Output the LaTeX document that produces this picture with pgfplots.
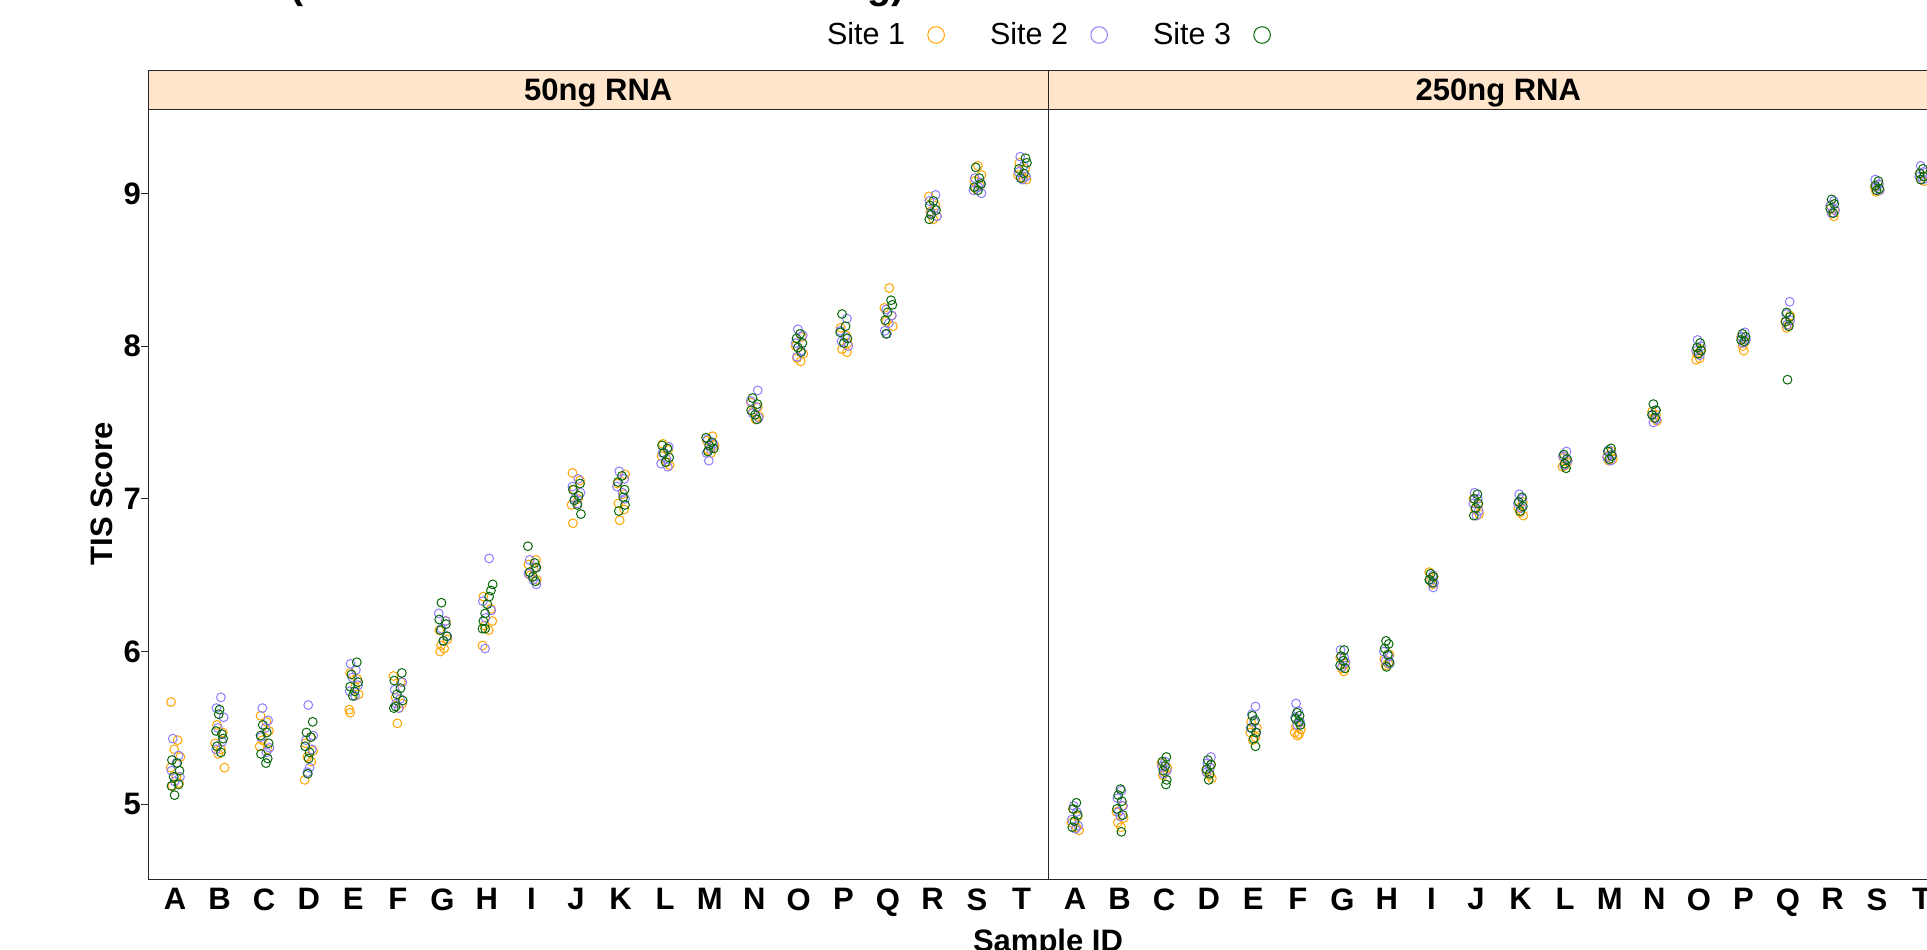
\documentclass[border=0pt]{standalone}
\usepackage{pgfplots}
\pgfplotsset{compat=1.18}
\usepackage{pgfplotstable}
\usepackage{fontspec}
\setmainfont{Liberation Sans}
\definecolor{siteA}{RGB}{255,165,0}
\definecolor{siteB}{RGB}{140,125,255}
\definecolor{siteC}{RGB}{10,105,10}
\definecolor{stripbg}{RGB}{255,229,204}
\newcommand{\figfont}{\fontsize{15.5}{18}\selectfont}

% ---------- 50ng RNA ----------
\pgfplotstableread{
x y
0.91 5.67
1.06 5.42
0.98 5.36
1.12 5.31
0.90 5.24
1.03 5.18
1.09 5.14
0.94 5.12
1.94 5.52
2.07 5.47
1.90 5.40
2.03 5.36
1.97 5.33
2.11 5.24
2.92 5.58
3.05 5.54
3.11 5.48
2.96 5.42
2.90 5.38
3.08 5.36
4.04 5.44
3.93 5.40
4.10 5.35
3.97 5.31
4.06 5.28
3.91 5.16
4.93 5.86
5.09 5.82
5.04 5.77
5.12 5.72
4.91 5.62
4.93 5.60
5.90 5.84
6.07 5.80
5.95 5.70
6.10 5.66
6.03 5.63
5.99 5.53
7.08 6.20
6.93 6.14
7.11 6.08
6.97 6.04
7.04 6.02
6.95 6.00
7.92 6.36
8.09 6.28
8.12 6.20
7.95 6.17
8.04 6.14
7.90 6.04
9.10 6.60
8.93 6.57
9.05 6.54
8.97 6.50
9.12 6.47
9.92 7.17
10.09 7.12
9.96 7.06
10.05 7.00
9.90 6.96
9.93 6.84
11.10 7.16
10.93 7.10
11.06 7.03
10.95 6.97
11.08 6.93
10.98 6.86
11.95 7.36
12.07 7.32
11.92 7.28
12.04 7.24
12.10 7.22
13.06 7.41
12.94 7.38
13.11 7.35
12.97 7.32
13.03 7.30
13.93 7.63
14.08 7.60
13.97 7.57
14.11 7.54
14.03 7.52
15.07 8.06
14.93 8.00
15.10 7.95
14.96 7.92
15.04 7.90
15.94 8.12
16.06 8.07
16.10 8.02
15.97 7.98
16.08 7.96
17.03 8.38
16.92 8.25
17.08 8.20
16.96 8.16
17.11 8.13
17.92 8.98
18.07 8.92
17.95 8.88
18.10 8.85
18.02 8.83
19.02 9.18
19.10 9.12
18.94 9.08
19.06 9.05
18.97 9.03
19.95 9.20
20.08 9.16
19.92 9.12
20.04 9.10
20.11 9.09
}\lowA
\pgfplotstableread{
x y
0.95 5.43
1.08 5.32
1.03 5.27
0.92 5.22
1.11 5.18
0.99 5.15
2.03 5.70
1.93 5.63
2.09 5.57
1.96 5.50
2.06 5.41
1.92 5.36
2.96 5.63
3.09 5.55
3.03 5.50
2.93 5.44
3.12 5.37
3.05 5.34
3.99 5.65
4.10 5.45
3.94 5.42
4.07 5.36
4.02 5.24
3.97 5.21
4.94 5.92
5.06 5.88
4.98 5.83
5.11 5.78
4.92 5.74
5.04 5.71
6.10 5.80
5.93 5.75
6.05 5.69
5.96 5.66
6.02 5.63
6.92 6.25
7.07 6.20
6.98 6.15
7.11 6.10
7.03 6.07
8.05 6.61
7.91 6.33
8.10 6.27
7.97 6.22
7.96 6.02
8.96 6.60
9.09 6.55
8.93 6.51
9.04 6.47
9.11 6.44
10.05 7.13
9.92 7.08
10.10 7.04
9.97 7.00
10.03 6.97
10.97 7.18
11.08 7.13
10.92 7.08
11.04 7.04
11.10 7.00
12.08 7.34
11.94 7.30
12.03 7.26
11.91 7.23
12.06 7.21
12.95 7.39
13.08 7.36
13.02 7.33
12.93 7.30
12.98 7.25
14.08 7.71
13.92 7.64
14.05 7.60
13.96 7.56
14.10 7.53
14.98 8.11
15.09 8.07
14.93 8.02
15.05 7.97
14.96 7.93
16.08 8.18
15.93 8.10
16.04 8.06
15.96 8.03
16.11 8.00
16.96 8.24
17.09 8.20
17.02 8.15
16.93 8.10
16.98 8.08
18.07 8.99
17.93 8.95
18.04 8.90
17.97 8.87
18.10 8.85
18.95 9.10
19.08 9.07
19.03 9.04
18.92 9.02
19.10 9.00
19.97 9.24
20.05 9.18
19.93 9.14
20.10 9.11
20.02 9.09
}\lowB
\pgfplotstableread{
x y
0.93 5.29
1.05 5.27
1.10 5.22
0.97 5.18
1.08 5.13
0.92 5.12
0.99 5.06
2.00 5.62
1.98 5.59
1.92 5.48
2.05 5.46
2.08 5.43
1.94 5.38
2.03 5.34
2.97 5.52
3.06 5.47
2.92 5.45
3.10 5.40
2.93 5.33
3.08 5.30
3.04 5.27
4.09 5.54
3.95 5.47
4.05 5.44
3.92 5.38
4.02 5.34
4.00 5.30
3.98 5.20
5.08 5.93
4.96 5.85
5.11 5.80
4.93 5.77
5.03 5.74
4.99 5.71
6.09 5.86
5.92 5.81
6.06 5.76
5.98 5.72
6.11 5.68
5.95 5.64
5.91 5.63
6.98 6.32
6.93 6.21
7.08 6.18
6.96 6.14
7.10 6.10
7.02 6.07
8.13 6.44
8.09 6.40
8.05 6.36
8.01 6.31
7.96 6.25
7.92 6.20
7.90 6.15
7.96 6.15
8.92 6.69
9.07 6.58
9.11 6.55
8.96 6.52
9.03 6.49
9.09 6.46
10.09 7.10
9.93 7.06
10.06 7.02
9.96 6.99
10.03 6.96
10.11 6.90
11.03 7.15
10.94 7.11
11.09 7.06
11.06 7.01
11.10 6.96
10.96 6.92
11.93 7.35
12.05 7.33
11.97 7.30
12.09 7.27
12.01 7.24
12.92 7.40
13.05 7.37
12.99 7.35
13.09 7.33
12.96 7.31
13.96 7.66
14.07 7.62
13.93 7.58
14.02 7.55
14.06 7.52
15.03 8.08
14.95 8.05
15.08 8.02
14.98 7.99
15.05 7.96
15.97 8.21
16.05 8.13
15.93 8.09
16.09 8.05
16.01 8.02
17.07 8.30
17.10 8.27
16.99 8.22
16.94 8.17
16.96 8.08
18.02 8.95
17.94 8.92
18.08 8.89
17.97 8.86
17.93 8.83
18.97 9.17
19.05 9.10
19.09 9.06
18.94 9.04
19.02 9.02
20.09 9.23
20.12 9.20
19.94 9.16
20.05 9.13
19.98 9.10
}\lowC
% ---------- 250ng RNA ----------
\pgfplotstableread{
x y
0.95 4.97
1.06 4.92
0.92 4.88
1.03 4.85
1.09 4.83
2.06 4.99
1.93 4.95
2.09 4.91
1.96 4.88
2.03 4.85
2.94 5.27
3.07 5.24
3.02 5.21
2.97 5.19
4.06 5.26
3.94 5.22
4.02 5.19
4.07 5.17
4.95 5.54
5.08 5.50
4.93 5.47
5.05 5.44
4.99 5.42
5.96 5.51
6.07 5.49
5.93 5.47
6.03 5.46
5.99 5.45
6.95 5.96
7.06 5.92
6.98 5.89
7.03 5.87
8.06 5.98
7.94 5.95
8.03 5.92
7.97 5.91
8.95 6.52
9.05 6.49
8.98 6.46
9.03 6.44
9.94 7.00
10.05 6.96
9.98 6.93
10.07 6.90
11.05 6.98
10.95 6.94
10.99 6.91
11.06 6.89
11.96 7.27
12.05 7.24
12.01 7.22
11.94 7.21
13.04 7.31
12.95 7.28
13.07 7.26
12.98 7.25
13.95 7.57
14.04 7.55
13.99 7.53
14.06 7.51
15.05 7.98
14.96 7.95
15.02 7.92
14.94 7.91
15.95 8.06
16.04 8.03
15.98 8.00
16.01 7.97
17.05 8.20
16.94 8.16
17.02 8.14
16.97 8.12
17.96 8.92
18.05 8.89
17.99 8.87
18.03 8.85
19.04 9.06
18.95 9.04
19.06 9.02
18.98 9.01
19.96 9.13
20.05 9.11
19.99 9.09
20.06 9.08
}\highA
\pgfplotstableread{
x y
0.97 4.99
1.04 4.95
0.93 4.90
1.07 4.86
1.01 4.84
2.04 5.09
1.95 5.04
2.08 4.99
1.98 4.95
2.02 4.92
3.02 5.28
2.95 5.25
3.06 5.22
2.99 5.20
4.05 5.31
3.97 5.27
4.03 5.24
3.95 5.21
5.05 5.64
4.97 5.59
5.02 5.54
4.94 5.50
5.07 5.47
5.96 5.66
6.01 5.61
5.94 5.57
6.05 5.54
5.99 5.52
6.96 6.01
7.04 5.96
7.07 5.93
6.99 5.90
7.93 6.00
8.04 5.97
7.97 5.94
8.06 5.92
9.03 6.50
8.96 6.47
9.06 6.45
9.04 6.42
9.97 7.04
10.04 7.00
9.94 6.97
10.06 6.92
10.01 6.89
10.97 7.03
11.04 7.00
10.94 6.97
11.02 6.94
12.03 7.31
11.95 7.28
12.06 7.25
11.98 7.22
12.97 7.32
13.05 7.29
12.94 7.27
13.02 7.25
14.03 7.58
13.96 7.55
14.05 7.52
13.98 7.50
14.97 8.04
15.05 8.00
14.94 7.97
15.02 7.94
16.03 8.09
15.96 8.06
16.06 8.04
15.99 8.02
17.04 8.29
16.96 8.21
17.05 8.17
16.98 8.14
18.03 8.95
17.95 8.92
18.06 8.89
17.98 8.87
18.96 9.09
19.04 9.06
18.98 9.04
19.06 9.02
19.98 9.18
20.04 9.14
19.95 9.11
20.03 9.09
}\highB
\pgfplotstableread{
x y
1.03 5.01
0.96 4.97
1.06 4.93
0.99 4.89
0.94 4.85
2.02 5.10
1.97 5.06
2.05 5.02
1.94 4.97
2.07 4.93
2.04 4.82
3.05 5.31
2.96 5.28
3.02 5.25
2.98 5.22
3.06 5.16
3.04 5.13
3.98 5.29
4.05 5.26
3.95 5.23
4.02 5.20
4.00 5.16
4.98 5.58
5.04 5.55
4.96 5.50
5.06 5.47
5.01 5.43
5.05 5.38
5.98 5.60
6.04 5.58
5.95 5.56
6.02 5.54
6.06 5.52
7.04 6.01
6.97 5.97
7.02 5.94
6.95 5.91
7.06 5.89
7.98 6.07
8.04 6.05
7.95 6.02
8.02 5.98
8.06 5.93
7.99 5.90
8.98 6.51
9.04 6.49
8.95 6.47
9.02 6.45
10.03 7.03
9.96 7.00
10.05 6.97
9.99 6.94
9.95 6.89
11.03 7.01
10.96 6.98
11.05 6.95
10.99 6.92
11.97 7.29
12.04 7.26
11.99 7.23
12.02 7.20
13.03 7.33
12.96 7.31
13.05 7.28
12.99 7.26
13.98 7.62
14.04 7.58
13.95 7.55
14.02 7.53
15.03 8.02
14.96 7.99
15.05 7.97
14.99 7.95
15.98 8.08
16.05 8.06
15.95 8.04
16.02 8.03
16.97 8.22
17.04 8.19
16.95 8.16
17.02 8.13
16.99 7.78
17.98 8.96
18.04 8.93
17.95 8.90
18.02 8.87
19.03 9.08
18.96 9.05
19.05 9.03
18.99 9.02
20.03 9.16
19.96 9.13
20.05 9.11
19.98 9.09
}\highC

\begin{document}
\begin{tikzpicture}[x=1pt,y=1pt]
\pgfplotsset{
  panel/.style={
    at={(#1pt,-439.5pt)}, anchor=south west,
    width=450pt, height=385pt, scale only axis,
    xmin=0.4, xmax=20.6, ymin=4.511, ymax=9.552,
    axis line style={black!85, line width=0.5pt},
    xtick={1,...,20},
    xticklabels={A,B,C,D,E,F,G,H,I,J,K,L,M,N,O,P,Q,R,S,T},
    x tick style={draw=none},
    xticklabel style={font=\figfont\bfseries, anchor=north, inner sep=0pt, yshift=-4.5pt},
    every axis plot/.append style={only marks, mark=o, mark size=2.2pt, mark options={line width=0.5pt}},
  },
  legimg/.style={legend image code/.code={%
    \path[draw=none,fill=none] (0pt,-4.5pt) rectangle (42.5pt,4.5pt);
    \draw[#1, line width=0.5pt, fill=none] (15.5pt,0pt) circle (4.15pt);}},
}
\begin{axis}[panel=74.15,
    ytick={5,6,7,8,9}, yticklabels={5,6,7,8,9},
    ytick pos=left, tick align=outside, major tick length=3.5pt,
    y tick style={black!85, line width=0.5pt},
    yticklabel style={font=\figfont\bfseries, anchor=east, inner sep=0pt},
    xticklabel style={yshift=3.5pt},
    legend plot pos=right, legend columns=3,
    legend style={at={(0.7538,1.0961)}, anchor=west, draw=none, fill=none,
      inner sep=0pt, column sep=0pt,
      nodes={inner sep=0pt, font=\fontsize{15.25}{18}\selectfont}},
  ]
\addplot[siteA, legimg=siteA] table[x=x,y=y] {\lowA};
\addlegendentry{Site 1}
\addplot[siteB, legimg=siteB] table[x=x,y=y] {\lowB};
\addlegendentry{Site 2}
\addplot[siteC, legimg=siteC] table[x=x,y=y] {\lowC};
\addlegendentry{Site 3}
\end{axis}
\begin{axis}[panel=524.15, ytick=\empty]
\addplot[siteA] table[x=x,y=y] {\highA};
\addplot[siteB] table[x=x,y=y] {\highB};
\addplot[siteC] table[x=x,y=y] {\highC};
\end{axis}
% strips
\draw[fill=stripbg, draw=black!85, line width=0.5pt] (74.15,-35.35) rectangle (524.15,-54.5);
\draw[fill=stripbg, draw=black!85, line width=0.5pt] (524.15,-35.35) rectangle (974.15,-54.5);
\node[anchor=base, font=\figfont\bfseries, inner sep=0pt] at (299.15,-50.35) {50ng RNA};
\node[anchor=base, font=\figfont\bfseries, inner sep=0pt] at (749.15,-50.35) {250ng RNA};
% axis titles
\node[rotate=90, font=\figfont\bfseries, inner sep=0pt] at (51,-247) {TIS Score};
\node[anchor=base, font=\figfont\bfseries, inner sep=0pt] at (524,-475.5) {Sample ID};
% main title (only its lowest part lies inside the picture)
\node[anchor=base east, font=\fontsize{19.7}{23}\selectfont\bfseries, inner sep=0pt] at (452.5,0.6) {TIS Scores at Three Sites (Total RNA Amount 50 or 250 ng)};
\pgfresetboundingbox
\useasboundingbox (0,0) rectangle (963.5,-474.5);
\end{tikzpicture}
\end{document}
